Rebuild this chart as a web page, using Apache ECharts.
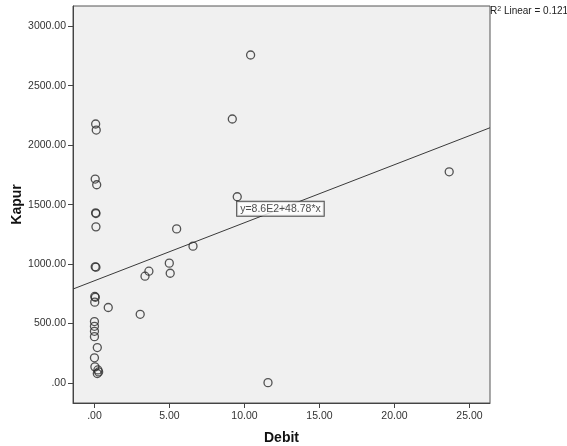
<!DOCTYPE html>
<html>
<head>
<meta charset="utf-8">
<script src="https://cdn.jsdelivr.net/npm/echarts@6/dist/echarts.min.js"></script>
<style>
  html, body { margin: 0; padding: 0; background: #fff; }
  #chart { width: 567px; height: 446px; }
</style>
</head>
<body>
<div id="chart"></div>
<script>
// Debit (x) and Kapur (y)
var debit = [
  0.08, 0.12, 0.05, 0.15, 0.08, 0.10, 0.10, 5.48, 6.57, 0.05, 0.10,
  4.99, 3.63, 3.37, 5.05, 0.02, 0.06, 0.02, 0.92, 3.05, 0.00, 0.00,
  0.00, 0.00, 0.19, 0.00, 0.03, 0.23, 0.28, 0.19, 11.57, 23.65,
  10.41, 9.19, 9.52
];
var kapur = [
  2178, 2127, 1715, 1667, 1431, 1425, 1313, 1296, 1151, 977, 974,
  1008, 940, 898, 923, 728, 721, 680, 635, 578, 517, 477,
  435, 390, 298, 212, 136, 110, 93, 80, 3, 1776,
  2758, 2220, 1566
];
var xTicks = [0, 5, 10, 15, 20, 25];
var yTicks = [0, 500, 1000, 1500, 2000, 2500, 3000];
// fit line y = b0 + b1 * x
var intercept = 860;
var slope = 48.78;
var rSquared = "0.121";

var xMin = -1.43, xMax = 26.37;
var yMin = -168, yMax = 3170;

function fmt(v) {
  return v === 0 ? ".00" : v.toFixed(2);
}

var points = debit.map(function (d, i) { return [d, kapur[i]]; });
var fitLine = [xMin, xMax].map(function (x) { return [x, intercept + slope * x]; });
var labelX = 12.4;

var chart = echarts.init(document.getElementById("chart"));
chart.setOption({
  animation: false,
  textStyle: { fontFamily: "Liberation Sans, Arial, sans-serif" },
  grid: {
    left: 73, top: 6, right: 77, bottom: 43,
    outerBoundsMode: "none",
    containLabel: false,
    show: true,
    backgroundColor: "#f0f0f0",
    borderColor: "#555",
    borderWidth: 1
  },
  xAxis: {
    type: "value",
    min: xMin, max: xMax,
    name: "Debit",
    nameLocation: "middle",
    nameGap: 28,
    nameMoveOverlap: false,
    nameTextStyle: { fontSize: 14, fontWeight: "bold", color: "#111" },
    axisLine: { show: true, onZero: false, lineStyle: { color: "#444" } },
    axisTick: { show: true, length: 5, customValues: xTicks, lineStyle: { color: "#444" } },
    axisLabel: { customValues: xTicks, formatter: fmt, fontSize: 10.5, color: "#333", margin: 8 },
    splitLine: { show: false }
  },
  yAxis: {
    type: "value",
    min: yMin, max: yMax,
    name: "Kapur",
    nameLocation: "middle",
    nameGap: 49,
    nameMoveOverlap: false,
    nameTextStyle: { fontSize: 14, fontWeight: "bold", color: "#111" },
    axisLine: { show: true, onZero: false, lineStyle: { color: "#444" } },
    axisTick: { show: true, length: 5, customValues: yTicks, lineStyle: { color: "#444" } },
    axisLabel: { customValues: yTicks, formatter: fmt, fontSize: 10.5, color: "#333", margin: 7 },
    splitLine: { show: false }
  },
  series: [
    {
      type: "line",
      data: fitLine,
      symbol: "none",
      lineStyle: { color: "#3a3a3a", width: 1 },
      z: 2
    },
    {
      type: "scatter",
      data: points,
      symbol: "circle",
      symbolSize: 8,
      itemStyle: { color: "transparent", borderColor: "#2a2a2a", borderWidth: 1.3 },
      z: 3
    },
    {
      type: "scatter",
      data: [[labelX, intercept + slope * labelX]],
      symbolSize: 0,
      silent: true,
      z: 4,
      label: {
        show: true,
        position: "inside",
        formatter: "y=8.6E2+48.78*x",
        fontSize: 10.5,
        color: "#222",
        backgroundColor: "#fff",
        borderColor: "#222",
        borderWidth: 1,
        padding: [2, 3, 1, 3]
      }
    }
  ],
  graphic: [
    {
      type: "text",
      left: 490,
      top: 6,
      style: {
        text: "{r|R}{s|2}{r| Linear = " + rSquared + "}",
        rich: {
          r: { fontSize: 10, fill: "#222", verticalAlign: "bottom" },
          s: { fontSize: 7, fill: "#222", verticalAlign: "top" }
        }
      }
    }
  ]
});
</script>
</body>
</html>
